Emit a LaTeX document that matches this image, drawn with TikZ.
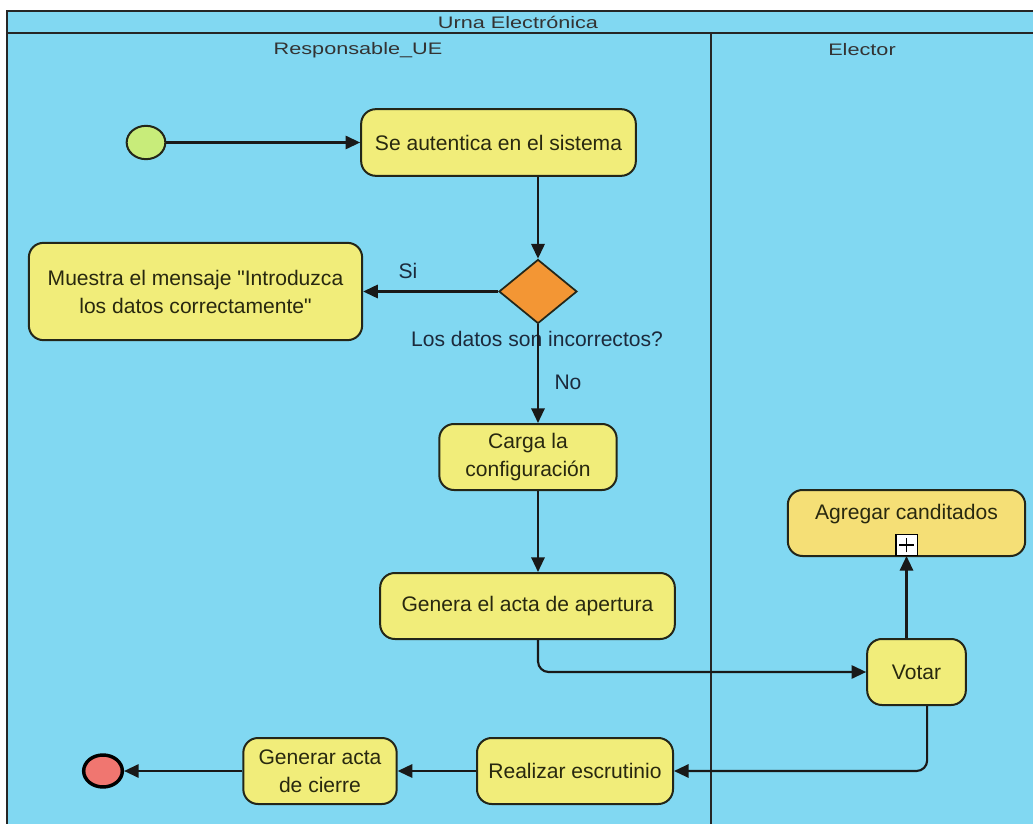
\documentclass[tikz,border=0pt]{standalone}
\usepackage{fontspec}
\setmainfont{Liberation Sans}
\newfontfamily\headfont[FakeStretch=1.3]{Liberation Sans}
\usetikzlibrary{shapes.geometric,arrows.meta}
\definecolor{lane}{RGB}{129,216,242}
\definecolor{actfill}{RGB}{241,237,122}
\definecolor{subfill}{RGB}{245,223,118}
\definecolor{decfill}{RGB}{243,150,52}
\definecolor{startfill}{RGB}{200,236,122}
\definecolor{endfill}{RGB}{240,118,112}
\definecolor{edgec}{RGB}{35,38,25}
\definecolor{acttext}{RGB}{40,40,15}
\definecolor{labtext}{RGB}{28,42,60}
\begin{document}
\begin{tikzpicture}[x=0.75pt,y=-0.75pt,
  bodyfont/.style={font=\fontsize{15.8}{21}\selectfont},
  action/.style={draw=edgec, fill=actfill, line width=1.5pt, rounded corners=11pt,
    align=center, text=acttext, bodyfont, inner sep=0pt},
  decision/.style={draw=edgec, fill=decfill, line width=1.3pt, diamond, inner sep=0pt,
    minimum width=58.5pt, minimum height=48pt, aspect=1.2},
  initial/.style={draw=edgec, fill=startfill, line width=1.5pt, ellipse, inner sep=0pt,
    minimum width=29pt, minimum height=25pt},
  final/.style={draw=black, fill=endfill, line width=2.6pt, ellipse, inner sep=0pt,
    minimum width=29pt, minimum height=24pt},
  flow/.style={draw=black!90, line width=1.6pt, -{Triangle[length=11pt,width=10pt]}},
  guard/.style={text=labtext, bodyfont, inner sep=0pt},
  lanehead/.style={text=black!80, font=\headfont\fontsize{12.5}{14}\selectfont, inner sep=0pt},
  laneline/.style={draw=black!85, line width=1.3pt}]

\useasboundingbox (0,0) rectangle (1033,824);
\fill[white] (0,0) rectangle (1033,824);

% swimlane pool
\fill[lane] (7,11) rectangle (1033,824);
\draw[laneline] (7,824) -- (7,11) -- (1033,11);
\draw[draw=black!85, line width=2.2pt] (7,33) -- (1033,33);
\draw[laneline] (711,33) -- (711,824);
\node[lanehead] (pool) at (518,22) {Urna Electrónica};
\node[lanehead] (laneA) at (358,50) {Responsable\_UE};
\node[lanehead] (laneB) at (862,50) {Elector};

% activities
\node[initial] (start) at (146,142.5) {};
\node[action, minimum width=206pt, minimum height=50pt] (auth) at (498.5,142.5) {Se autentica en el sistema};
\node[decision] (dia) at (538,291.5) {};
\node[action, minimum width=250pt, minimum height=73pt] (msg) at (195.5,291.5)
  {Muestra el mensaje \textquotedbl Introduzca\\los datos correctamente\textquotedbl};
\node[action, minimum width=133pt, minimum height=49.5pt] (carga) at (528,457) {Carga la\\configuración};
\node[action, minimum width=221pt, minimum height=49.5pt] (genera) at (527.5,606) {Genera el acta de apertura};
\node[action, minimum width=74pt, minimum height=49.5pt] (votar) at (916.5,672) {Votar};
\node[action, fill=subfill, minimum width=178pt, minimum height=49.5pt] (agregar) at (906.5,523) {};
\node[text=acttext, bodyfont, inner sep=0pt] (agregarlbl) at (906.5,514) {Agregar canditados};
\node[draw=black, fill=white, line width=1pt, minimum width=16pt, minimum height=15.5pt, inner sep=0pt,
  anchor=south,
  path picture={\draw[line width=1.1pt] (path picture bounding box.center) +(-5.5pt,0) -- +(5.5pt,0)
     (path picture bounding box.center) +(0,-5.5pt) -- +(0,5.5pt);}] (plus) at (906.5,556) {};
\node[action, minimum width=147pt, minimum height=49.5pt] (realizar) at (575,771) {Realizar escrutinio};
\node[action, minimum width=115pt, minimum height=49.5pt] (generar) at (320,771) {Generar acta\\de cierre};
\node[final] (end) at (103,771) {};

% guards
\node[guard] (si) at (408,271) {Si};
\node[guard] (q) at (537,339) {Los datos son incorrectos?};
\node[guard] (no) at (568,382) {No};

% control flows
\draw[flow] (start.east) -- (auth.west);
\draw[flow] (auth.south -| dia) -- (dia.north);
\draw[flow] (dia.west) -- (msg.east);
\draw[flow] (dia.south) -- (dia.south |- carga.north);
\draw[flow] (carga.south -| dia) -- (genera.north -| dia);
\draw[flow, rounded corners=8pt] (genera.south -| dia) |- (votar.west);
\draw[flow] (votar.north -| plus) -- (plus.south);
\draw[flow, rounded corners=8pt] ([xshift=8pt]votar.south) |- (realizar.east);
\draw[flow] (realizar.west) -- (generar.east);
\draw[flow] (generar.west) -- (end.east);
\end{tikzpicture}
\end{document}
